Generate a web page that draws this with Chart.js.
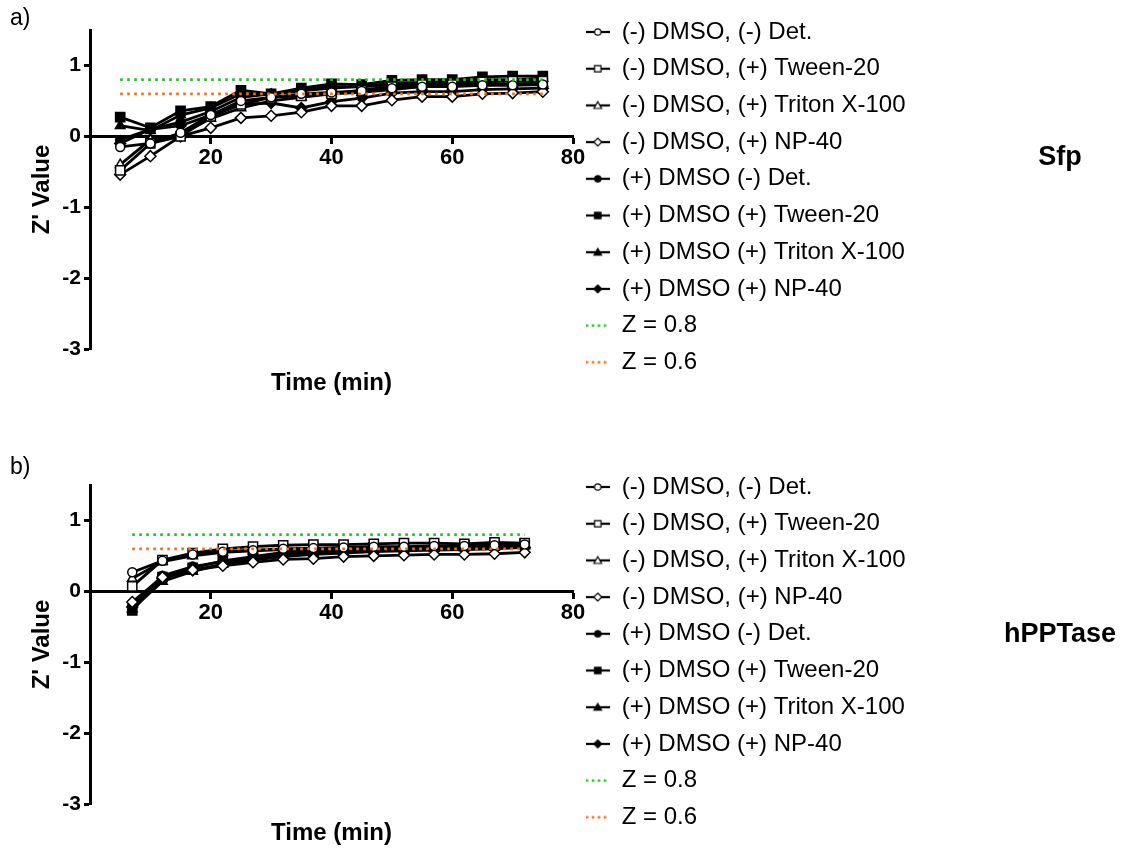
<!DOCTYPE html>
<html>
<head>
<meta charset="utf-8">
<script src="https://cdn.jsdelivr.net/npm/chart.js@4.4.1/dist/chart.umd.min.js"></script>
<style>
html, body { margin: 0; padding: 0; background: #fff; overflow: hidden; }
#page { position: relative; width: 1125px; height: 848px; overflow: hidden; }
.panel { position: absolute; left: 0; width: 1125px; height: 455px; }
</style>
</head>
<body>
<div id="page">
  <div class="panel" style="top:0"><canvas id="chartA"></canvas></div>
  <div class="panel" style="top:455px"><canvas id="chartB"></canvas></div>
</div>
<script>
//-------------
//- DATA
//-------------
var seriesNames = [
    "(-) DMSO, (-) Det.",
    "(-) DMSO, (+) Tween-20",
    "(-) DMSO, (+) Triton X-100",
    "(-) DMSO, (+) NP-40",
    "(+) DMSO (-) Det.",
    "(+) DMSO (+) Tween-20",
    "(+) DMSO (+) Triton X-100",
    "(+) DMSO (+) NP-40"
];
var refNames = ["Z = 0.8", "Z = 0.6"];
var refValues = [0.8, 0.6];

// Sfp panel, time in min
var timeSfp = [5, 10, 15, 20, 25, 30, 35, 40, 45, 50, 55, 60, 65, 70, 75];
var sfpNoDmsoNoDet   = [-0.15, -0.10, 0.05, 0.30, 0.50, 0.55, 0.60, 0.62, 0.64, 0.68, 0.70, 0.70, 0.72, 0.72, 0.73];
var sfpNoDmsoTween   = [-0.48, -0.10, 0.00, 0.28, 0.45, 0.55, 0.57, 0.60, 0.65, 0.70, 0.73, 0.73, 0.77, 0.78, 0.78];
var sfpNoDmsoTriton  = [-0.40, -0.05, 0.02, 0.25, 0.40, 0.50, 0.55, 0.60, 0.62, 0.66, 0.70, 0.71, 0.74, 0.74, 0.75];
var sfpNoDmsoNp40    = [-0.54, -0.28, 0.00, 0.12, 0.26, 0.29, 0.34, 0.43, 0.43, 0.51, 0.56, 0.56, 0.60, 0.61, 0.63];
var sfpDmsoNoDet     = [-0.05, 0.10, 0.20, 0.35, 0.55, 0.60, 0.64, 0.68, 0.70, 0.72, 0.75, 0.76, 0.78, 0.79, 0.80];
var sfpDmsoTween     = [0.27, 0.12, 0.36, 0.42, 0.65, 0.60, 0.68, 0.74, 0.73, 0.79, 0.80, 0.80, 0.84, 0.85, 0.85];
var sfpDmsoTriton    = [0.15, 0.08, 0.30, 0.40, 0.60, 0.59, 0.66, 0.70, 0.70, 0.75, 0.76, 0.77, 0.80, 0.80, 0.82];
var sfpDmsoNp40      = [-0.10, 0.10, 0.15, 0.30, 0.45, 0.47, 0.40, 0.49, 0.54, 0.61, 0.63, 0.63, 0.66, 0.67, 0.68];

// hPPTase panel, time in min
var timeHppt = [7, 12, 17, 22, 27, 32, 37, 42, 47, 52, 57, 62, 67, 72];
var hpNoDmsoNoDet    = [0.27, 0.43, 0.52, 0.56, 0.58, 0.60, 0.61, 0.62, 0.63, 0.63, 0.64, 0.64, 0.65, 0.66];
var hpNoDmsoTween    = [0.07, 0.44, 0.54, 0.60, 0.63, 0.65, 0.66, 0.66, 0.67, 0.68, 0.68, 0.67, 0.69, 0.68];
var hpNoDmsoTriton   = [0.18, 0.42, 0.50, 0.55, 0.57, 0.59, 0.60, 0.61, 0.61, 0.62, 0.63, 0.63, 0.64, 0.65];
var hpNoDmsoNp40     = [-0.15, 0.20, 0.30, 0.36, 0.41, 0.45, 0.46, 0.49, 0.50, 0.51, 0.52, 0.52, 0.53, 0.55];
var hpDmsoNoDet      = [-0.20, 0.22, 0.35, 0.42, 0.47, 0.52, 0.55, 0.57, 0.59, 0.60, 0.61, 0.62, 0.63, 0.64];
var hpDmsoTween      = [-0.27, 0.20, 0.33, 0.43, 0.49, 0.55, 0.58, 0.60, 0.62, 0.62, 0.63, 0.65, 0.65, 0.67];
var hpDmsoTriton     = [-0.25, 0.14, 0.28, 0.38, 0.45, 0.50, 0.53, 0.56, 0.57, 0.58, 0.60, 0.61, 0.62, 0.64];
var hpDmsoNp40       = [-0.22, 0.18, 0.30, 0.38, 0.44, 0.49, 0.52, 0.54, 0.56, 0.57, 0.58, 0.59, 0.60, 0.62];

var yTicks = [-3, -2, -1, 0, 1];
var xTicks = [20, 40, 60, 80];

//-------------
//- STYLE
//-------------
var FONT = '"Liberation Sans", Arial, Helvetica, sans-serif';
var GREEN = "#22c322";
var ORANGE = "#ff6a10";
var markerStyles = ["circle", "rect", "triangle", "rectRot", "circle", "rect", "triangle", "rectRot"];
var markerRadius = { circle: 4.5, rect: 6.5, triangle: 5.5, rectRot: 5.5 };
var markerFilled = [false, false, false, false, true, true, true, true];

// small line+marker picture for legend entries
function legendIcon(style, filled, color, dotted) {
    var c = document.createElement("canvas");
    c.width = 24;
    c.height = 14;
    var g = c.getContext("2d");
    g.strokeStyle = color;
    if (dotted) {
        g.lineWidth = 2.5;
        g.setLineDash([2.5, 3.5]);
        g.beginPath(); g.moveTo(0, 7); g.lineTo(24, 7); g.stroke();
        return c;
    }
    g.lineWidth = 2.2;
    g.beginPath(); g.moveTo(0, 7); g.lineTo(24, 7); g.stroke();
    g.lineWidth = 1.2;
    g.fillStyle = filled ? "#000" : "#fff";
    g.beginPath();
    if (style == "circle") {
        g.arc(12, 7, 3.2, 0, Math.PI * 2);
    } else if (style == "rect") {
        g.rect(8.8, 3.8, 6.4, 6.4);
    } else if (style == "triangle") {
        g.moveTo(12, 3.2); g.lineTo(15.8, 10); g.lineTo(8.2, 10); g.closePath();
    } else {
        g.moveTo(12, 3); g.lineTo(16, 7); g.lineTo(12, 11); g.lineTo(8, 7); g.closePath();
    }
    g.fill();
    g.stroke();
    return c;
}

function buildDatasets(times, seriesList) {
    var datasets = [];
    for (var i = 0; i < seriesList.length; i++) {
        var pts = [];
        for (var j = 0; j < times.length; j++) {
            pts.push({ x: times[j], y: seriesList[i][j] });
        }
        var st = markerStyles[i];
        datasets.push({
            label: seriesNames[i],
            data: pts,
            borderColor: "#000",
            borderWidth: 2.8,
            pointStyle: st,
            pointRadius: markerRadius[st],
            pointBorderWidth: 1.5,
            pointBorderColor: "#000",
            pointBackgroundColor: markerFilled[i] ? "#000" : "#fff",
            tension: 0,
            legendIcon: legendIcon(st, markerFilled[i], "#000", false)
        });
    }
    var refColors = [GREEN, ORANGE];
    for (var k = 0; k < refValues.length; k++) {
        datasets.push({
            label: refNames[k],
            data: [{ x: times[0], y: refValues[k] }, { x: times[times.length - 1], y: refValues[k] }],
            borderColor: refColors[k],
            borderWidth: 2.8,
            borderDash: [2.6, 4.4],
            pointRadius: 0,
            order: -1,
            legendIcon: legendIcon(null, false, refColors[k], true)
        });
    }
    return datasets;
}

// side label (protein name) on the right
var sideLabel = {
    id: "sideLabel",
    afterDraw: function (chart, args, opts) {
        var ctx = chart.ctx;
        ctx.save();
        ctx.font = "bold 27px " + FONT;
        ctx.fillStyle = "#000";
        ctx.textAlign = "center";
        ctx.textBaseline = "middle";
        ctx.fillText(opts.text, opts.x, opts.y);
        ctx.restore();
    }
};

function makeOptions(panel, sideText, sideY, timeTop, panelShift) {
    return {
        responsive: true,
        maintainAspectRatio: false,
        animation: false,
        layout: { padding: { left: 10, top: 7.3, right: 212, bottom: 0 } },
        scales: {
            x: {
                type: "linear",
                position: { y: 0 },
                min: 0,
                max: 80,
                ticks: { stepSize: 20, color: "#000", padding: 2, font: { family: FONT, size: 22, weight: "bold" } },
                afterBuildTicks: function (s) {
                    s.ticks = xTicks.map(function (v) { return { value: v }; });
                },
                grid: { drawOnChartArea: false, drawTicks: true, tickLength: 6, tickColor: "#000", tickWidth: 3 },
                border: { color: "#000", width: 3 }
            },
            y: {
                type: "linear",
                position: "left",
                min: -3,
                max: 1.5,
                ticks: { stepSize: 1, color: "#000", padding: 3, font: { family: FONT, size: 21, weight: "bold" } },
                afterBuildTicks: function (s) {
                    s.ticks = yTicks.map(function (v) { return { value: v }; });
                },
                afterFit: function (s) { s.width = 80; },
                title: {
                    display: true,
                    text: "Z' Value",
                    color: "#000",
                    padding: { top: 18, bottom: 0 },
                    font: { family: FONT, size: 24, weight: "bold", lineHeight: 1.2 }
                },
                grid: { drawOnChartArea: false, drawTicks: true, tickLength: 6, tickColor: "#000", tickWidth: 3 },
                border: { color: "#000", width: 3 }
            }
        },
        plugins: {
            tooltip: { enabled: false },
            title: {
                display: true,
                text: panel,
                align: "start",
                position: "top",
                color: "#000",
                padding: { top: -panelShift, bottom: panelShift },
                font: { family: FONT, size: 23, weight: "normal", lineHeight: 0.987 }
            },
            subtitle: {
                display: true,
                text: "Time (min)",
                position: "bottom",
                fullSize: false,
                align: "center",
                color: "#000",
                padding: { top: timeTop, bottom: 106 - 28.8 - timeTop },
                font: { family: FONT, size: 24, weight: "bold", lineHeight: 1.2 }
            },
            legend: {
                display: true,
                position: "right",
                align: "start",
                maxWidth: 340,
                labels: {
                    usePointStyle: true,
                    pointStyleWidth: 24,
                    padding: 12.7,
                    color: "#000",
                    font: { family: FONT, size: 24 },
                    generateLabels: function (chart) {
                        return chart.data.datasets.map(function (ds, i) {
                            return {
                                text: ds.label,
                                pointStyle: ds.legendIcon,
                                fillStyle: "#000",
                                strokeStyle: "#000",
                                lineWidth: 1,
                                hidden: false,
                                datasetIndex: i
                            };
                        });
                    }
                }
            },
            sideLabel: { text: sideText, x: 1060, y: sideY }
        }
    };
}

new Chart(document.getElementById("chartA"), {
    type: "line",
    data: {
        datasets: buildDatasets(timeSfp, [
            sfpNoDmsoNoDet, sfpNoDmsoTween, sfpNoDmsoTriton, sfpNoDmsoNp40,
            sfpDmsoNoDet, sfpDmsoTween, sfpDmsoTriton, sfpDmsoNp40
        ])
    },
    options: makeOptions("a)", "Sfp", 158, 19.5, 0),
    plugins: [sideLabel]
});

new Chart(document.getElementById("chartB"), {
    type: "line",
    data: {
        datasets: buildDatasets(timeHppt, [
            hpNoDmsoNoDet, hpNoDmsoTween, hpNoDmsoTriton, hpNoDmsoNp40,
            hpDmsoNoDet, hpDmsoTween, hpDmsoTriton, hpDmsoNp40
        ])
    },
    options: makeOptions("b)", "hPPTase", 180, 14.5, 6),
    plugins: [sideLabel]
});
</script>
</body>
</html>
